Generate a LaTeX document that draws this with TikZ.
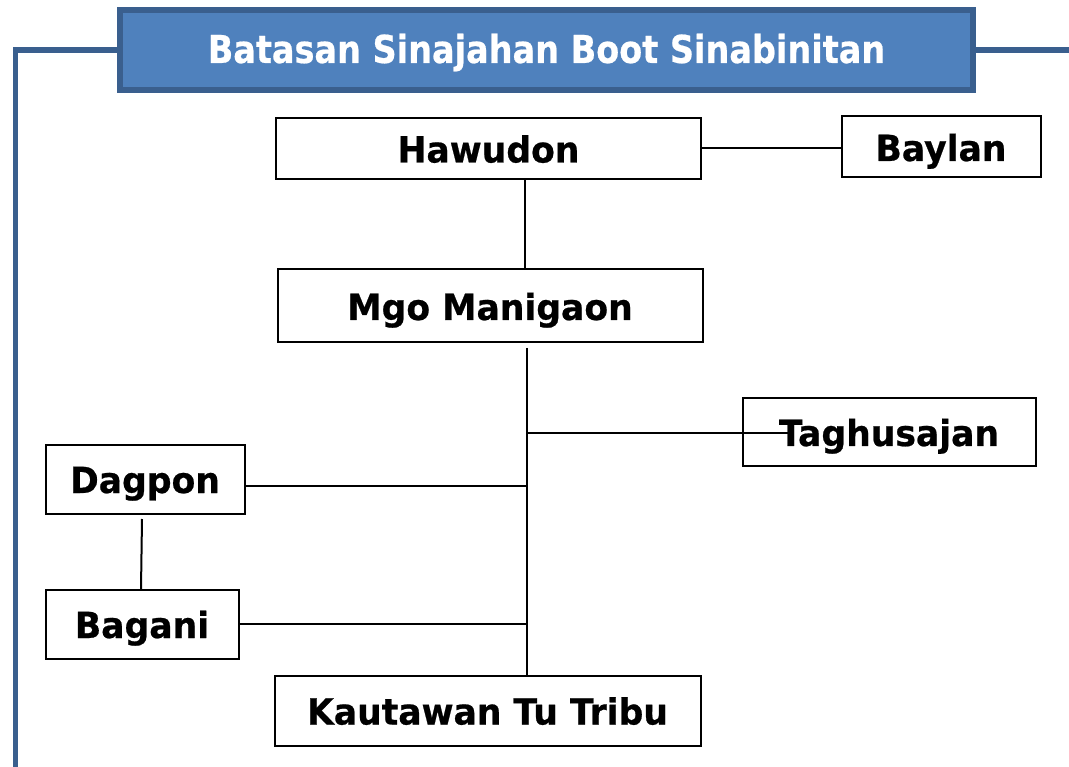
\documentclass[tikz,border=0pt]{standalone}
\usepackage{fontspec}
\setmainfont{DejaVu Sans}
\newfontfamily\boxfont[FakeStretch=0.96,FakeBold=0.6]{DejaVu Sans}
\newfontfamily\titlefont[FakeStretch=0.87,FakeBold=0.5]{DejaVu Sans}
\usetikzlibrary{calc}
\definecolor{hdrfill}{HTML}{4F81BD}
\definecolor{hdrline}{HTML}{3A5F8E}
\begin{document}
\begin{tikzpicture}[x=1pt,y=-1pt,
  box/.style={draw=black,line width=2pt,fill=white,rectangle,inner sep=0pt,
    text height=28pt,text depth=0pt,
    font=\boxfont\fontsize{36}{40}\selectfont\bfseries,text=black},
  link/.style={draw=black,line width=2pt},
  frame/.style={draw=hdrline,line width=5.5pt},
  hdr/.style={draw=hdrline,fill=hdrfill,line width=6pt,rectangle,inner sep=0pt,
    minimum width=853pt,minimum height=80pt,text=white,
    text height=26pt,text depth=0pt,
    font=\titlefont\fontsize{38.5}{42}\selectfont\bfseries}]
\useasboundingbox (0,0) rectangle (1069,767);

% header and the frame lines leaving it
\node[hdr] (hdr) at (546.5,50) {Batasan Sinajahan Boot Sinabinitan};
\coordinate (frameBottom) at (15.5,770);
\coordinate (frameRight) at (1072,50);
\draw[frame] (hdr.west) -- (hdr.west -| frameBottom) -- (frameBottom);
\draw[frame] (hdr.east) -- (frameRight);

% boxes
\node[box,minimum width=425pt,minimum height=61pt] (haw) at (488.5,148.5) {Hawudon};
\node[box,minimum width=199pt,minimum height=61pt] (bay) at (941,147) {Baylan};
\node[box,minimum width=425pt,minimum height=73pt] (mgo) at (490,306) {Mgo Manigaon};
\node[box,minimum width=293pt,minimum height=67pt] (tag) at (889,432) {Taghusajan};
\node[box,minimum width=199pt,minimum height=69pt] (dag) at (145,479) {Dagpon};
\node[box,minimum width=193pt,minimum height=69pt] (bag) at (142,624) {Bagani};
\node[box,minimum width=426pt,minimum height=70pt] (kau) at (487.5,710.5) {Kautawan Tu Tribu};

% connectors
\coordinate (hawDown) at (524.5,0);
\coordinate (spineTop) at (527,348);
\coordinate (tagEnd) at (788,433);
\coordinate (dagJoin) at (527,486);
\coordinate (dagLow) at (142,519);
\coordinate (bagUp) at (141,589);

\draw[link] (haw.east) -- (haw.east -| bay.west);
\draw[link] (haw.south -| hawDown) -- (mgo.north -| hawDown);
\draw[link] (spineTop) -- (spineTop |- kau.north);
\draw[link] (tagEnd -| spineTop) -- (tagEnd);
\draw[link] (dagJoin -| dag.east) -- (dagJoin);
\draw[link] (bag.east) -- (bag.east -| spineTop);
\draw[link] (dagLow) -- (bagUp);
\end{tikzpicture}
\end{document}
